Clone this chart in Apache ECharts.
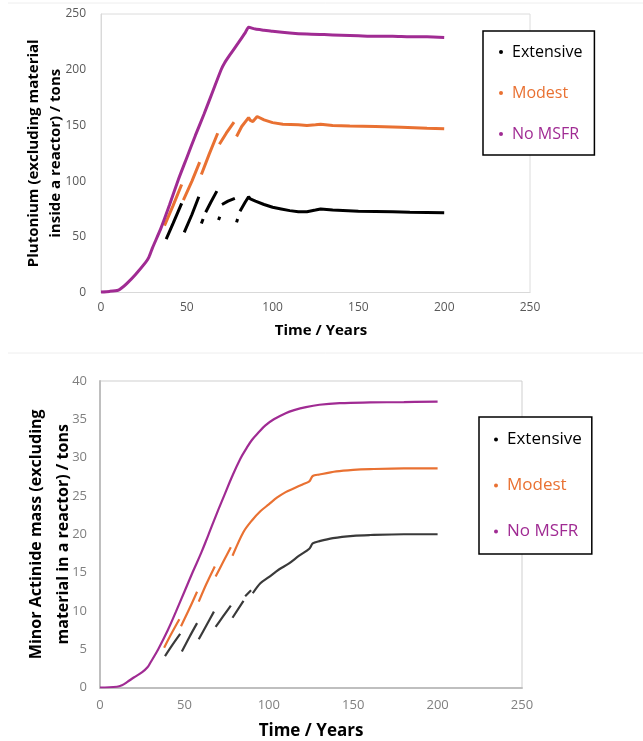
<!DOCTYPE html>
<html>
<head>
<meta charset="utf-8">
<script src="https://cdn.jsdelivr.net/npm/echarts@6/dist/echarts.min.js"></script>
<style>
  html, body { margin: 0; padding: 0; background: #fff; }
  #chart { width: 643px; height: 741px; }
</style>
</head>
<body>
<div id="chart"></div>
<script>
// series names (same in both panels)
const seriesNames = ['Extensive', 'Modest', 'No MSFR']
const seriesColors = ['#000000', '#E97132', '#A02B93']

// top panel: plutonium outside reactors, [year, tons]; null = gap between saw segments
const puExtensive = [
  [38, 48], [42, 62], [47, 80], [47.8, null],
  [48.5, 54], [53, 70], [57, 86], [57.8, null],
  [58.5, 62], [59.5, 66], [60.2, null],
  [61, 72], [64, 81], [67.5, 91], [68, null],
  [68.5, 65], [69.2, 68], [69.8, null],
  [70.5, 79], [74, 82], [78, 84.5], [78.5, null],
  [79, 63], [79.6, 66], [80.3, null],
  [81, 73], [84, 81], [86, 86], [87, 84], [90, 82], [95, 79], [100, 76.5],
  [105, 75], [110, 73.5], [115, 72.5], [120, 72.5], [125, 74], [128, 75],
  [135, 74], [150, 73], [170, 72.5], [180, 72], [200, 71.5]
]
const puModest = [
  [37, 60], [42, 78], [47, 97], [47.5, null],
  [48, 83], [53, 100], [57.5, 117], [58, null],
  [58.5, 106], [63, 124], [68, 143], [68.5, null],
  [69, 133], [73, 143], [77.5, 153], [78, null],
  [79, 140], [82, 149], [86, 157], [87, 154.5], [88.5, 153.5], [91, 158],
  [95, 155], [100, 152.5], [106, 151], [115, 150.5], [120, 150], [125, 150.5],
  [128, 151], [135, 150], [145, 149.5], [160, 149], [175, 148.3], [190, 147.5], [200, 147]
]
const puNoMsfr = [
  [0, 0.5], [5, 1], [10, 2], [12, 4], [15, 8], [20, 16], [26, 27], [28, 32],
  [30, 40], [35, 58], [40, 79], [45, 101], [50, 121], [55, 141], [60, 160],
  [65, 180], [70, 200], [72, 206], [75, 213], [80, 224], [84, 233], [86, 238],
  [90, 236.5], [95, 235.5], [100, 234.5], [110, 233], [120, 232], [130, 231.5],
  [140, 231], [150, 230.5], [160, 230], [170, 230], [180, 229.5], [190, 229.5], [200, 229]
]

// bottom panel: minor actinides outside reactors, [year, tons]
const maExtensive = [
  [38.5, 4.1], [43, 5.6], [47.5, 7.0], [48, null],
  [48.5, 4.7], [53, 6.6], [57.5, 8.4], [58, null],
  [58.5, 6.3], [63, 8.1], [67.5, 9.9], [68, null],
  [68.5, 7.9], [73, 9.3], [77.5, 10.7], [78, null],
  [78.5, 9.1], [85, 11.3], [85.5, null],
  [86, 11.9], [89.5, 12.7], [90, null],
  [90.5, 12.3], [95, 13.6], [100, 14.4], [106, 15.4], [112, 16.2], [118, 17.2],
  [124, 18.1], [126, 18.8], [130, 19.1], [138, 19.5], [150, 19.8], [160, 19.9],
  [180, 20], [200, 20]
]
const maModest = [
  [38, 5.2], [42.5, 7.1], [47, 8.9], [47.5, null],
  [48, 8], [53, 10.3], [57.5, 12.5], [58, null],
  [58.5, 11.2], [63, 13.5], [68, 15.8], [68.3, null],
  [68.5, 14.5], [73, 16.4], [77.5, 18.3], [78, null],
  [78.5, 17.2], [85, 20.3], [90, 21.8], [95, 23], [100, 23.9], [105, 24.8],
  [110, 25.5], [115, 26], [120, 26.5], [124, 26.9], [126, 27.6], [130, 27.8],
  [140, 28.2], [150, 28.4], [160, 28.5], [180, 28.6], [200, 28.6]
]
const maNoMsfr = [
  [0, 0], [10, 0.1], [13, 0.3], [16, 0.7], [20, 1.3], [25, 2], [28, 2.6], [30, 3.3],
  [34.5, 5], [40, 7.4], [45, 9.9], [50, 12.5], [55, 15.1], [60, 17.6], [64, 19.8],
  [69, 22.6], [73.5, 25], [78, 27.4], [83, 29.8], [87, 31.3], [90, 32.3], [94, 33.3],
  [98, 34.2], [103, 35], [110, 35.8], [115, 36.2], [122, 36.6], [130, 36.9],
  [142, 37.1], [160, 37.2], [180, 37.25], [200, 37.3]
]

const font = '"Open Sans", "Noto Sans", sans-serif'
const chart = echarts.init(document.getElementById('chart'), null, { renderer: 'canvas' })

const makeLegend = (left, top, fontSize, gap, pad) => ({
  orient: 'vertical',
  left: left,
  top: top,
  icon: 'circle',
  itemWidth: 4,
  itemHeight: 4,
  itemGap: gap,
  padding: pad,
  borderColor: '#000',
  borderWidth: 1.5,
  backgroundColor: '#fff',
  data: seriesNames.map((n, i) => ({
    name: n,
    textStyle: { color: seriesColors[i], fontSize: fontSize, fontFamily: font, padding: [0, 0, 0, 4] }
  }))
})

const valueAxis = (opts) => Object.assign({
  type: 'value',
  min: 0,
  splitLine: { show: false },
  axisTick: { show: false },
  nameLocation: 'middle',
  nameMoveOverlap: false
}, opts)

const mkSeries = (data, i, grid, width, smooth) => ({
  name: seriesNames[i],
  type: 'line',
  xAxisIndex: grid,
  yAxisIndex: grid,
  data: data,
  showSymbol: false,
  connectNulls: false,
  smooth: smooth,
  animation: false,
  itemStyle: { color: seriesColors[i] },
  lineStyle: { color: grid === 1 && i === 0 ? '#3a3a3a' : seriesColors[i], width: width }
})

const option = {
  animation: false,
  grid: [
    { left: 101, top: 14, width: 429, height: 278.5, show: true, borderColor: '#dcdcdc', borderWidth: 1 },
    { left: 100, top: 381, width: 422, height: 306.5, show: true, borderColor: '#cfcfcf', borderWidth: 1 }
  ],
  legend: [
    makeLegend(483, 31, 16, 25, [13, 12, 13, 16]),
    makeLegend(479, 417, 17, 29, [14, 10, 14, 15])
  ],
  xAxis: [
    valueAxis({
      gridIndex: 0, max: 250, interval: 50,
      axisLine: { lineStyle: { color: '#d9d9d9', width: 1 } },
      axisLabel: { color: '#595959', fontSize: 12, margin: 9, fontFamily: font },
      name: 'Time / Years', nameGap: 31,
      nameTextStyle: { color: '#000', fontSize: 15, fontWeight: 'bold', fontFamily: font, padding: [0, 0, 0, 11] }
    }),
    valueAxis({
      gridIndex: 1, max: 250, interval: 50,
      axisLine: { lineStyle: { color: '#bfbfbf', width: 2 } },
      axisLabel: { color: '#7f7f7f', fontSize: 13, margin: 11, fontFamily: font },
      name: 'Time / Years', nameGap: 35,
      nameTextStyle: { color: '#000', fontSize: 17, fontWeight: 'bold', fontFamily: font }
    })
  ],
  yAxis: [
    valueAxis({
      gridIndex: 0, max: 250, interval: 50,
      axisLine: { show: true, lineStyle: { color: '#d9d9d9', width: 1 } },
      axisLabel: { color: '#595959', fontSize: 12, margin: 15, fontFamily: font },
      name: 'Plutonium (excluding material\ninside a reactor) / tons', nameGap: 34, nameRotate: 90,
      nameTextStyle: { color: '#000', fontSize: 15, fontWeight: 'bold', fontFamily: font, lineHeight: 22 }
    }),
    valueAxis({
      gridIndex: 1, max: 40, interval: 5,
      axisLine: { show: true, lineStyle: { color: '#bfbfbf', width: 2 } },
      axisLabel: { color: '#7f7f7f', fontSize: 13, margin: 13, fontFamily: font },
      name: 'Minor Actinide mass (excluding\nmaterial in a reactor) / tons', nameGap: 23, nameRotate: 90,
      nameTextStyle: { color: '#000', fontSize: 16, fontWeight: 'bold', fontFamily: font, lineHeight: 27 }
    })
  ],
  graphic: [
    { type: 'line', shape: { x1: 8, y1: 3, x2: 643, y2: 3 }, style: { stroke: '#eeeeee', lineWidth: 1 } },
    { type: 'line', shape: { x1: 8, y1: 353, x2: 643, y2: 353 }, style: { stroke: '#eeeeee', lineWidth: 1 } }
  ],
  series: [
    mkSeries(puExtensive, 0, 0, 3, false),
    mkSeries(puModest, 1, 0, 3, false),
    mkSeries(puNoMsfr, 2, 0, 3, 0.2),
    mkSeries(maExtensive, 0, 1, 2.2, 0.3),
    mkSeries(maModest, 1, 1, 2.2, 0.3),
    mkSeries(maNoMsfr, 2, 1, 2.2, 0.4)
  ]
}

chart.setOption(option)
window.addEventListener('resize', () => chart.resize())
</script>
</body>
</html>
